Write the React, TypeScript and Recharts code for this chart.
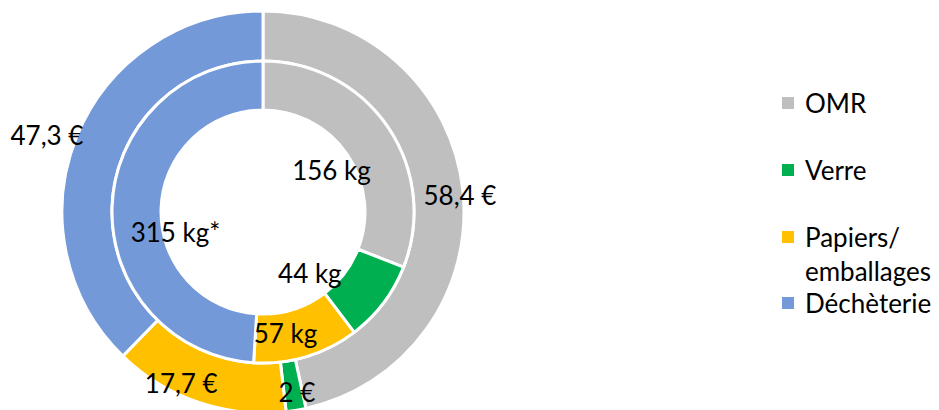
import React from "react";
import { PieChart, Pie, Cell, Legend } from "recharts";

const categories = ["OMR", "Verre", "Papiers/ emballages", "Déchèterie"];
const colors = ["#BFBFBF", "#00B050", "#FFC000", "#7399D8"];
const costValues = [58.4, 2, 17.7, 47.3];
const costLabels = ["58,4 €", "2 €", "17,7 €", "47,3 €"];
const weightValues = [156, 44, 57, 247];
const weightLabels = ["156 kg", "44 kg", "57 kg", "315 kg*"];

const outerData = categories.map((name, i) => ({ name, value: costValues[i], label: costLabels[i] }));
const innerData = categories.map((name, i) => ({ name, value: weightValues[i], label: weightLabels[i] }));

const FONT = "Lato, 'Noto Sans', sans-serif";
const RAD = Math.PI / 180;

// label nudges relative to ring middle
const OUTER_NUDGE = [[22, 2], [5, 6], [-25, 4], [-53, -11]];
const INNER_NUDGE = [[-36, 29], [-54, -15], [-14, 0], [39, 24]];

const makeLabel = (nudges: number[][], data: { label: string }[]) => (props: any) => {
  const { cx, cy, midAngle, innerRadius, outerRadius, index } = props;
  const r = (innerRadius + outerRadius) / 2;
  const x = cx + r * Math.cos(-midAngle * RAD) + nudges[index][0];
  const y = cy + r * Math.sin(-midAngle * RAD) + nudges[index][1];
  return (
    <text
      x={x}
      y={y}
      textAnchor="middle"
      dominantBaseline="central"
      fill="#000"
      fontSize={26}
      fontFamily={FONT}
    >
      {data[index].label}
    </text>
  );
};

const LegendContent = () => {
  const lines = [["OMR"], ["Verre"], ["Papiers/", "emballages"], ["Déchèterie"]];
  const margins = [33, 33, -2, 0];
  return (
    <div style={{ fontFamily: FONT, fontSize: 26, color: "#000" }}>
      {categories.map((c, i) => (
        <div key={c} style={{ marginBottom: i < 2 ? margins[i] : 0, marginTop: i === 3 ? -2 : 0 }}>
          {lines[i].map((t, j) => (
            <div key={t} style={{ display: "flex", alignItems: "center", height: 34, lineHeight: "34px" }}>
              <span
                style={{
                  display: "inline-block",
                  width: 12,
                  height: 12,
                  background: j === 0 ? colors[i] : "transparent",
                  marginRight: 11,
                }}
              />
              <span>{t}</span>
            </div>
          ))}
        </div>
      ))}
    </div>
  );
};

export default function App() {
  return (
    <div style={{ position: "absolute", left: 0, top: 0, width: 939, height: 410, background: "#fff" }}>
      <PieChart width={939} height={410} margin={{ top: 0, right: 0, bottom: 0, left: 0 }}>
        <Pie
          data={outerData}
          dataKey="value"
          nameKey="name"
          cx={263}
          cy={212}
          innerRadius={151}
          outerRadius={201}
          startAngle={90}
          endAngle={-270}
          stroke="#fff"
          strokeWidth={3}
          isAnimationActive={false}
          labelLine={false}
          label={makeLabel(OUTER_NUDGE, outerData)}
        >
          {outerData.map((d, i) => (
            <Cell key={d.name} fill={colors[i]} />
          ))}
        </Pie>
        <Pie
          data={innerData}
          dataKey="value"
          nameKey="name"
          cx={263}
          cy={212}
          innerRadius={102}
          outerRadius={151}
          startAngle={90}
          endAngle={-270}
          stroke="#fff"
          strokeWidth={3}
          isAnimationActive={false}
          labelLine={false}
          label={makeLabel(INNER_NUDGE, innerData)}
        >
          {innerData.map((d, i) => (
            <Cell key={d.name} fill={colors[i]} />
          ))}
        </Pie>
        <Legend
          layout="vertical"
          align="right"
          verticalAlign="top"
          content={<LegendContent />}
          wrapperStyle={{ position: "absolute", left: 782, top: 86, width: 157 }}
        />
      </PieChart>
    </div>
  );
}
